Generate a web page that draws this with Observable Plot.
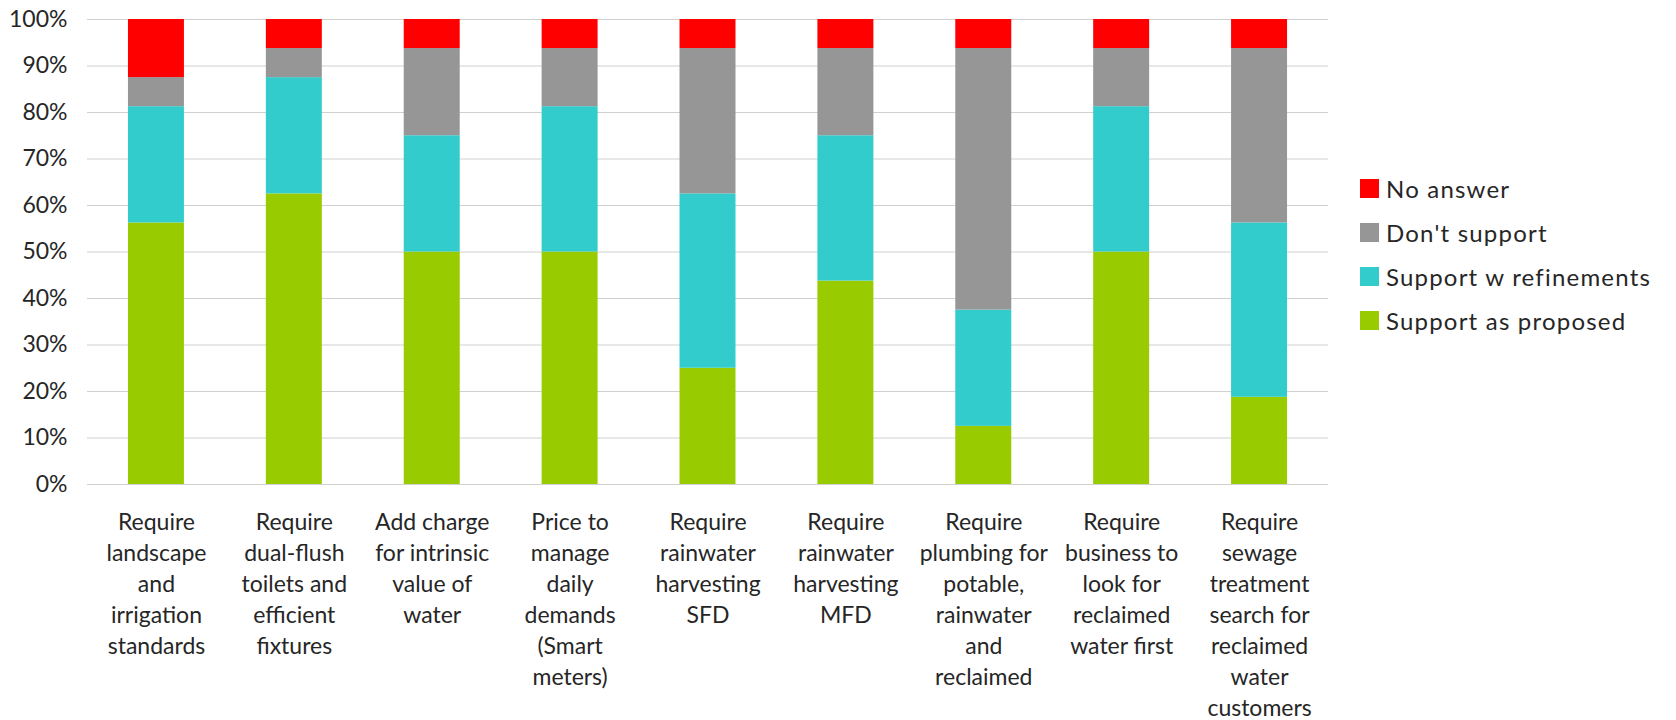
<!DOCTYPE html>
<html>
<head>
<meta charset="utf-8">
<script src="https://cdn.jsdelivr.net/npm/d3@7"></script>
<script src="https://cdn.jsdelivr.net/npm/@observablehq/plot@0.6"></script>
<style>
  body { margin: 0; background: #fff; }
  #wrap { position: relative; width: 1676px; height: 720px; font-family: Lato, "Open Sans", sans-serif; color: #262626; }
  #legend { position: absolute; left: 1360px; top: 166px; font-size: 24px; letter-spacing: 1.2px; }
  .row { display: flex; align-items: center; height: 44px; white-space: nowrap; }
  .sw { width: 19px; height: 19px; margin-right: 7px; }
</style>
</head>
<body>
<div id="wrap"><div id="chart"></div><div id="legend"></div></div>
<script>
const categories = ["landscape", "dualflush", "charge", "price", "rainSFD", "rainMFD", "plumbing", "business", "sewage"];
const xLabels = [
  "Require\nlandscape\nand\nirrigation\nstandards",
  "Require\ndual-flush\ntoilets and\nefficient\nfixtures",
  "Add charge\nfor intrinsic\nvalue of\nwater",
  "Price to\nmanage\ndaily\ndemands\n(Smart\nmeters)",
  "Require\nrainwater\nharvesting\nSFD",
  "Require\nrainwater\nharvesting\nMFD",
  "Require\nplumbing for\npotable,\nrainwater\nand\nreclaimed",
  "Require\nbusiness to\nlook for\nreclaimed\nwater first",
  "Require\nsewage\ntreatment\nsearch for\nreclaimed\nwater\ncustomers"
];
const seriesNames = ["Support as proposed", "Support w refinements", "Don't support", "No answer"];
const seriesColors = ["#99CC00", "#33CCCC", "#969696", "#FF0000"];
const supportAsProposed   = [56.25, 62.5, 50, 50, 25, 43.75, 12.5, 50, 18.75];
const supportWRefinements = [25, 25, 25, 31.25, 37.5, 31.25, 25, 31.25, 37.5];
const dontSupport         = [6.25, 6.25, 18.75, 12.5, 31.25, 18.75, 56.25, 12.5, 37.5];
const noAnswer            = [12.5, 6.25, 6.25, 6.25, 6.25, 6.25, 6.25, 6.25, 6.25];
const yTicks = [0, 10, 20, 30, 40, 50, 60, 70, 80, 90, 100];

const seriesValues = [supportAsProposed, supportWRefinements, dontSupport, noAnswer];
const data = [];
seriesNames.forEach((s, si) => categories.forEach((c, ci) => data.push({cat: c, series: s, value: seriesValues[si][ci]})));
const labelOf = new Map(categories.map((c, i) => [c, xLabels[i]]));

const chart = Plot.plot({
  width: 1676,
  height: 720,
  marginLeft: 87,
  marginRight: 348,
  marginTop: 19,
  marginBottom: 236,
  style: {fontFamily: "Lato, 'Open Sans', sans-serif", fontSize: "23px", color: "#262626", background: "#fff"},
  x: {domain: categories, paddingInner: 0.594, paddingOuter: 0.297, round: false, axis: null},
  y: {domain: [0, 100], axis: null},
  color: {domain: seriesNames, range: seriesColors},
  marks: [
    Plot.gridY(yTicks, {stroke: "#d0d0d0", strokeOpacity: 1, strokeWidth: 1}),
    Plot.barY(data, {x: "cat", y: "value", fill: "series", order: seriesNames}),
    Plot.axisY(yTicks, {tickSize: 0, tickPadding: 20, tickFormat: d => d + "%", fontSize: 23, label: null}),
    Plot.axisX(categories, {tickSize: 0, tickPadding: 23, tickFormat: d => labelOf.get(d), lineHeight: 1.35, fontSize: 23, label: null})
  ]
});
document.getElementById("chart").appendChild(chart);

const legend = document.getElementById("legend");
[3, 2, 1, 0].forEach(i => {
  const row = document.createElement("div");
  row.className = "row";
  const sw = document.createElement("div");
  sw.className = "sw";
  sw.style.background = seriesColors[i];
  const t = document.createElement("span");
  t.textContent = seriesNames[i];
  row.appendChild(sw); row.appendChild(t);
  legend.appendChild(row);
});
</script>
</body>
</html>
